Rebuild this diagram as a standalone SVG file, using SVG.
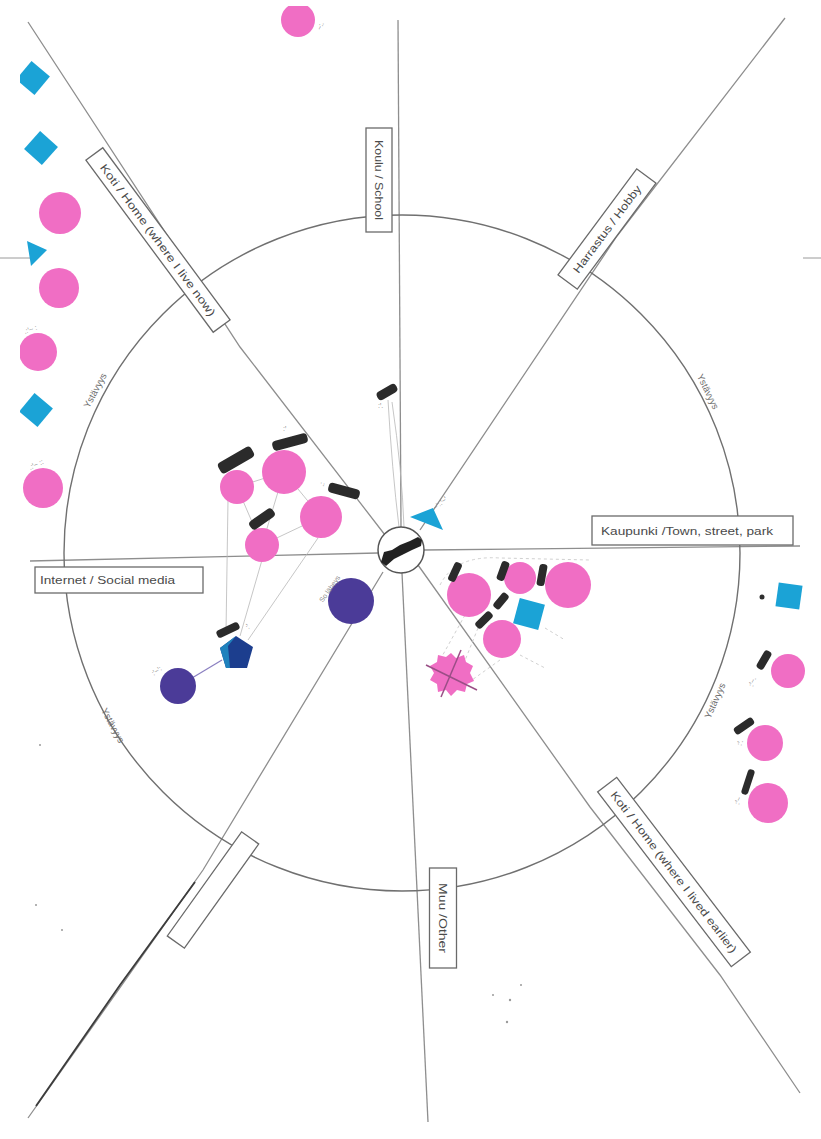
<svg xmlns="http://www.w3.org/2000/svg" width="821" height="1139" viewBox="0 0 821 1139">
<defs>
<style>
.sp{fill:none;stroke:#8e8e8e;stroke-width:1.3}
.ring{fill:none;stroke:#707070;stroke-width:1.4}
.box{fill:#fff;stroke:#6a6a6a;stroke-width:1.3}
.lbl{font-family:"Liberation Sans",Arial,sans-serif;font-size:11px;fill:#4a4a4a}
.arc{font-family:"Liberation Sans",Arial,sans-serif;font-size:9.5px;fill:#6e6e6e}
.hw{font-family:"Liberation Sans",Arial,sans-serif;font-size:7px;fill:#8a8a8a}
.pk{fill:#f06ec4}
.cy{fill:#1ba3d6}
.pu{fill:#4b3b98}
.bar{fill:#2b2b2b}
.ln{fill:none;stroke:#b8b8b8;stroke-width:0.8}
.dl{fill:none;stroke:#c4c4c4;stroke-width:0.8;stroke-dasharray:3 3}
</style>
<clipPath id="page"><rect x="20" y="6" width="801" height="1133"/></clipPath>
</defs>
<rect width="821" height="1139" fill="#fff"/>

<g id="connectors">
  <polyline class="sp" points="398,20 401,527"/>
  <polyline class="sp" points="402,573 428,1122"/>
  <polyline class="sp" points="30,561 378,553"/>
  <polyline class="sp" points="424,550 800,546"/>
  <polyline class="sp" points="28,22 240,347 385,535"/>
  <polyline class="sp" points="418,565 590,807 720,975 800,1093"/>
  <polyline class="sp" points="785,18 617,236 420,530"/>
  <polyline class="sp" points="383,572 203,870 28,1118"/>
  <polyline fill="none" stroke="#3c3c3c" stroke-width="1.8" points="195,882 120,985 36,1106"/>
  <circle class="ring" cx="402" cy="553" r="338"/>
  <line x1="0" y1="258" x2="30" y2="258" stroke="#9a9a9a" stroke-width="1"/>
  <line x1="803" y1="258" x2="821" y2="258" stroke="#9a9a9a" stroke-width="1"/>
  <line class="ln" x1="237" y1="487" x2="284" y2="472"/>
  <line class="ln" x1="284" y1="472" x2="321" y2="517"/>
  <line class="ln" x1="237" y1="487" x2="262" y2="545"/>
  <line class="ln" x1="262" y1="545" x2="321" y2="517"/>
  <line class="ln" x1="284" y1="472" x2="262" y2="545"/>
  <line class="ln" x1="228" y1="500" x2="226" y2="632"/>
  <line class="ln" x1="262" y1="560" x2="240" y2="636"/>
  <line class="ln" x1="318" y1="538" x2="248" y2="640"/>
  <line x1="192" y1="678" x2="222" y2="660" stroke="#8a7fc0" stroke-width="1.2"/>
  <path class="ln" d="M388,400 Q392,470 399,527"/>
  <path class="ln" d="M392,402 Q402,470 404,527"/>
  <path class="dl" d="M440,585 Q455,555 500,558 L590,560"/>
  <path class="dl" d="M465,615 L440,660"/>
  <path class="dl" d="M478,628 L462,668"/>
  <path class="dl" d="M500,660 L472,680"/>
  <path class="dl" d="M545,628 L565,640"/>
  <path class="dl" d="M520,655 L545,668"/>
</g>

<g id="label-home-now" transform="translate(158,240) rotate(53.5)">
  <rect class="box" x="-107" y="-10.5" width="214" height="21"/>
  <text class="lbl" x="0" y="4" text-anchor="middle" textLength="186" lengthAdjust="spacingAndGlyphs">Koti / Home (where I live now)</text>
</g>
<g id="label-school" transform="translate(379,180) rotate(90)">
  <rect class="box" x="-52" y="-13" width="104" height="26"/>
  <text class="lbl" x="0" y="4" text-anchor="middle" textLength="80" lengthAdjust="spacingAndGlyphs">Koulu / School</text>
</g>
<g id="label-hobby" transform="translate(607,229) rotate(-53.4)">
  <rect class="box" x="-66" y="-12" width="132" height="24"/>
  <text class="lbl" x="0" y="4" text-anchor="middle" textLength="106" lengthAdjust="spacingAndGlyphs">Harrastus / Hobby</text>
</g>
<g id="label-town">
  <rect class="box" x="592" y="516" width="201" height="29"/>
  <text class="lbl" x="601" y="535" textLength="172" lengthAdjust="spacingAndGlyphs">Kaupunki /Town, street, park</text>
</g>
<g id="label-internet">
  <rect class="box" x="35" y="567" width="168" height="26"/>
  <text class="lbl" x="40" y="584" textLength="135" lengthAdjust="spacingAndGlyphs">Internet / Social media</text>
</g>
<g id="label-home-earlier" transform="translate(674,872) rotate(52.6)">
  <rect class="box" x="-110" y="-12" width="220" height="24"/>
  <text class="lbl" x="0" y="4" text-anchor="middle" textLength="200" lengthAdjust="spacingAndGlyphs">Koti / Home (where I lived earlier)</text>
</g>
<g id="label-other" transform="translate(443,918) rotate(90)">
  <rect class="box" x="-50" y="-13.5" width="100" height="27"/>
  <text class="lbl" x="0" y="4" text-anchor="middle" textLength="70" lengthAdjust="spacingAndGlyphs">Muu /Other</text>
</g>
<g id="label-empty" transform="translate(213,890) rotate(-54.5)">
  <rect class="box" x="-64" y="-10.5" width="128" height="21"/>
</g>

<g id="arc-labels">
  <text class="arc" transform="translate(98,392) rotate(-62)" text-anchor="middle">Ystävyys</text>
  <text class="arc" transform="translate(705,393) rotate(64)" text-anchor="middle">Ystävyys</text>
  <text class="arc" transform="translate(718,702) rotate(-66)" text-anchor="middle">Ystävyys</text>
  <text class="arc" transform="translate(110,727) rotate(62)" text-anchor="middle">Ystävyys</text>
</g>

<g id="center">
  <circle cx="401" cy="550" r="23" fill="#fff" stroke="#555" stroke-width="1.5"/>
  <path d="M381,562 L384,552 L392,550 L400,545 L410,541 L418,537 L422,540 L421,546 L412,550 L404,554 L394,559 L386,566 Z" fill="#222"/>
</g>

<g id="left-column" clip-path="url(#page)">
  <rect class="cy" x="-12" y="-12" width="24" height="24" transform="translate(33,78) rotate(40)"/>
  <rect class="cy" x="-12" y="-12" width="24" height="24" transform="translate(41,148) rotate(42)"/>
  <circle class="pk" cx="60" cy="213" r="21"/>
  <polygon class="cy" points="27,241 47,250 31,266"/>
  <circle class="pk" cx="59" cy="288" r="20"/>
  <circle class="pk" cx="38" cy="352" r="19"/>
  <text class="hw" x="24" y="332" transform="rotate(-20,30,330)">.:ꞌ~ :</text>
  <rect class="cy" x="-12" y="-12" width="24" height="24" transform="translate(36,410) rotate(40)"/>
  <circle class="pk" cx="43" cy="488" r="20"/>
  <text class="hw" x="28" y="466" transform="rotate(-25,38,463)">.:ꞌ~ ::</text>
  <circle class="pk" cx="298" cy="20" r="17"/>
  <text class="hw" x="318" y="30" transform="rotate(-70,320,28)">~:.</text>
</g>

<g id="right-column">
  <circle cx="762" cy="597" r="2.5" fill="#2f2f2f"/>
  <rect class="cy" x="-12" y="-12" width="24" height="24" transform="translate(789,596) rotate(8)"/>
  <rect class="bar" x="-10" y="-4" width="20" height="8" rx="3" transform="translate(764,660) rotate(-60)"/>
  <text class="hw" x="744" y="682" transform="rotate(-70,752,678)">:ꞌ~.</text>
  <circle class="pk" cx="788" cy="671" r="17"/>
  <rect class="bar" x="-11" y="-4" width="22" height="8" rx="3" transform="translate(744,726) rotate(-35)"/>
  <text class="hw" x="733" y="742" transform="rotate(-70,740,738)">:ꞌ.</text>
  <circle class="pk" cx="765" cy="743" r="18"/>
  <rect class="bar" x="-13" y="-3.5" width="26" height="7" rx="3" transform="translate(748,782) rotate(-72)"/>
  <text class="hw" x="730" y="800" transform="rotate(-70,738,796)">:ꞌ~</text>
  <circle class="pk" cx="768" cy="803" r="20"/>
</g>

<g id="cluster-upper-left">
  <circle class="pk" cx="284" cy="472" r="22"/>
  <circle class="pk" cx="237" cy="487" r="17"/>
  <circle class="pk" cx="321" cy="517" r="21"/>
  <circle class="pk" cx="262" cy="545" r="17"/>
  <rect class="bar" x="-19" y="-6" width="38" height="12" rx="4" transform="translate(236,460) rotate(-30)"/>
  <rect class="bar" x="-18" y="-5" width="36" height="10" rx="4" transform="translate(290,442) rotate(-15)"/>
  <text class="hw" x="283" y="431">:ꞌ</text>
  <rect class="bar" x="-16" y="-5" width="32" height="10" rx="4" transform="translate(344,491) rotate(15)"/>
  <text class="hw" x="318" y="485" transform="rotate(-70,322,482)">.:</text>
  <rect class="bar" x="-14" y="-5" width="28" height="10" rx="4" transform="translate(262,519) rotate(-35)"/>
  <circle class="pu" cx="351" cy="601" r="23"/>
  <text class="hw" x="312" y="598" transform="rotate(-55,322,590)">So läheys</text>
  <rect class="bar" x="-12" y="-4" width="24" height="8" rx="3" transform="translate(228,630) rotate(-25)"/>
  <text class="hw" x="245" y="628" transform="rotate(-55,248,625)">:ꞌ</text>
  <polygon fill="#1c3e8e" points="236,636 253,647 247,668 226,668 220,648"/>
  <polygon fill="#1f82bd" points="236,636 220,648 226,668 230,668 228,646"/>
  <circle class="pu" cx="178" cy="686" r="18"/>
  <text class="hw" x="150" y="672" transform="rotate(-35,158,668)">:ꞌ~ꞌ:</text>
</g>

<g id="cluster-center">
  <rect class="bar" x="-11" y="-4.5" width="22" height="9" rx="4" transform="translate(387,392) rotate(-30)"/>
  <text class="hw" x="378" y="408">:ꞌ.</text>
  <polygon class="cy" points="410,517 433,508 443,530"/>
  <text class="hw" x="430" y="505" transform="rotate(-40,440,500)">~ꞌ:.ꞌ~ꞌ</text>
</g>

<g id="cluster-lower-right">
  <circle class="pk" cx="469" cy="595" r="22"/>
  <circle class="pk" cx="520" cy="578" r="16"/>
  <circle class="pk" cx="568" cy="585" r="23"/>
  <circle class="pk" cx="502" cy="639" r="19"/>
  <rect class="cy" x="-13" y="-13" width="26" height="26" transform="translate(529,614) rotate(15)"/>
  <rect class="bar" x="-10" y="-4" width="20" height="8" rx="3" transform="translate(455,572) rotate(-65)"/>
  <rect class="bar" x="-10" y="-4" width="20" height="8" rx="3" transform="translate(503,571) rotate(-70)"/>
  <rect class="bar" x="-11" y="-4" width="22" height="8" rx="3" transform="translate(542,575) rotate(-80)"/>
  <rect class="bar" x="-9" y="-4" width="18" height="8" rx="3" transform="translate(501,601) rotate(-50)"/>
  <rect class="bar" x="-10" y="-4" width="20" height="8" rx="3" transform="translate(484,620) rotate(-45)"/>
  <path class="pk" d="M451,653 L456,658 L464,655 L466,662 L473,666 L470,673 L474,681 L467,684 L465,692 L457,690 L451,696 L446,690 L438,692 L437,684 L430,680 L434,673 L430,666 L437,662 L438,655 L446,657 Z"/>
  <line x1="426" y1="665" x2="477" y2="690" stroke="#9a4e86" stroke-width="1.5"/>
  <line x1="441" y1="697" x2="461" y2="650" stroke="#9a4e86" stroke-width="1.5"/>
</g>

<g id="specks" fill="#9a9a9a">
  <circle cx="510" cy="1000" r="1.2"/>
  <circle cx="521" cy="985" r="1"/>
  <circle cx="493" cy="995" r="1"/>
  <circle cx="507" cy="1022" r="1.2"/>
  <circle cx="40" cy="745" r="1"/>
  <circle cx="36" cy="905" r="1"/>
  <circle cx="62" cy="930" r="1"/>
</g>
</svg>
